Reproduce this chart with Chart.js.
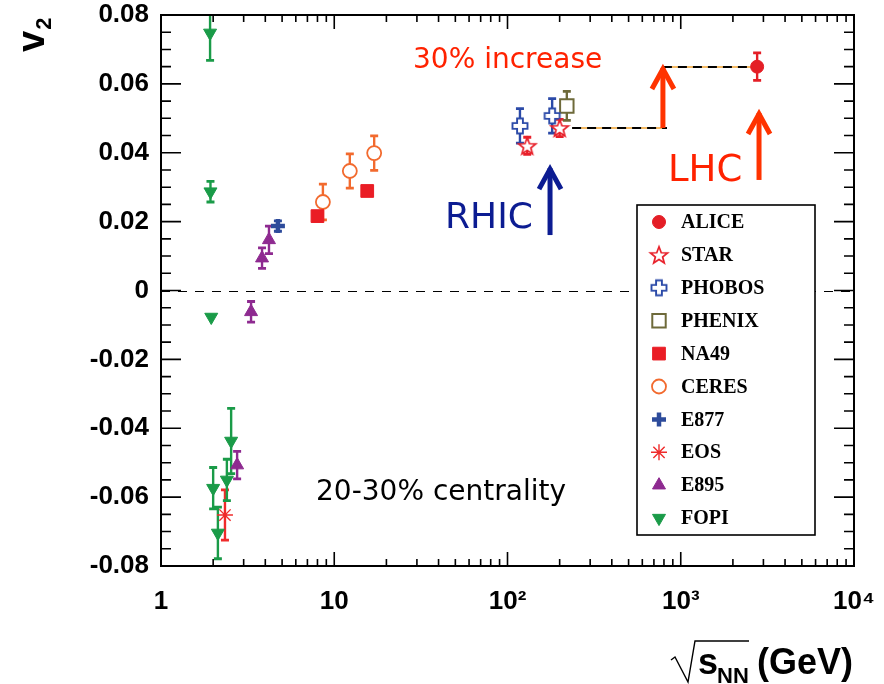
<!DOCTYPE html>
<html><head><meta charset="utf-8">
<script src="https://cdn.jsdelivr.net/npm/chart.js@4/dist/chart.umd.min.js"></script>
<style>html,body{margin:0;padding:0;background:#fff}#c{display:block}</style>
</head><body>
<div style="width:884px;height:684px"><canvas id="c" width="884" height="684"></canvas></div>
<script>
// ---- data ----
const aliceX=[2760], aliceY=[0.065], aliceErr=[0.004];
const starX=[130,200], starY=[0.0420,0.0472], starErr=[0.0025,0.0025];
const phobosX=[118,181], phobosY=[0.0478,0.0507], phobosErr=[0.005,0.005];
const phenixX=[220], phenixY=[0.0536], phenixErr=[0.0042];
const na49X=[8.0,15.5], na49Y=[0.0216,0.0289], na49Err=[0,0];
const ceresX=[8.6,12.3,17.0], ceresY=[0.0257,0.0347,0.0399], ceresErr=[0.0052,0.0050,0.0050];
const e877X=[4.73], e877Y=[0.0187], e877Err=[0.0015];
const eosX=[2.34], eosY=[-0.0652], eosErr=[0.0073];
const e895X=[2.75,3.31,3.83,4.2], e895Y=[-0.0507,-0.0062,0.0094,0.0147], e895Err=[0.004,0.003,0.003,0.004];
const fopiX=[1.92,1.93,1.95,2.0,2.13,2.40,2.54];
const fopiY=[0.0748,0.0287,-0.0077,-0.0574,-0.0704,-0.0550,-0.0437];
const fopiErr=[0.008,0.003,0,0.006,0.0075,0.006,0.0095];

const xTickValues=[1,10,100,1000,10000];
const xTickLabels=['1','10','10\u00B2','10\u00B3','10\u2074'];
const yTickValues=[-0.08,-0.06,-0.04,-0.02,0,0.02,0.04,0.06,0.08];
const yTickLabels=['-0.08','-0.06','-0.04','-0.02','0','0.02','0.04','0.06','0.08'];

// ---- annotations (data coordinates) ----
const RED='#ff2200', BLUE='#0c1c92';
const annArrows=[{x:789,y0:0.0472,y1:0.0655,c:'#ff3300'},{x:2830,y0:0.0321,y1:0.0524,c:'#ff3300'},{x:176,y0:0.0161,y1:0.0364,c:BLUE}];
const annDashes=[{x0:236,x1:833,y:0.0472},{x0:789,x1:2580,y:0.0649}];
const annTexts=[
  {t:'30% increase',x:28.5,y:0.0646,size:28,c:RED},
  {t:'LHC',x:844,y:0.0318,size:37,c:RED},
  {t:'RHIC',x:43.6,y:0.0182,size:36,c:BLUE},
  {t:'20-30% centrality',x:7.85,y:-0.0608,size:28,c:'#000'}
];

// ---- marker images ----
function makeCanvas(size, draw){const c=document.createElement('canvas');c.width=size;c.height=size;draw(c.getContext('2d'),size);return c;}
const starImg=makeCanvas(22,(g,s)=>{g.beginPath();const cx=s/2,cy=s/2+0.8,R=9,r=3.8;
  for(let i=0;i<10;i++){const a=-Math.PI/2+i*Math.PI/5;const rr=i%2?r:R;g.lineTo(cx+rr*Math.cos(a),cy+rr*Math.sin(a));}
  g.closePath();g.fillStyle='#fff';g.fill();g.lineWidth=1.7;g.strokeStyle='#e8202a';g.stroke();});
const openCrossImg=makeCanvas(20,(g,s)=>{const c=s/2,a=7.5,b=2.9;g.beginPath();
  const p=[[c-b,c-a],[c+b,c-a],[c+b,c-b],[c+a,c-b],[c+a,c+b],[c+b,c+b],[c+b,c+a],[c-b,c+a],[c-b,c+b],[c-a,c+b],[c-a,c-b],[c-b,c-b]];
  p.forEach((q,i)=>i?g.lineTo(q[0],q[1]):g.moveTo(q[0],q[1]));g.closePath();g.fillStyle='#fff';g.fill();g.lineWidth=1.9;g.strokeStyle='#2b4aa8';g.stroke();});

function ds(label,xs,ys,errs,errColor,style){
  return Object.assign({label,data:xs.map((x,i)=>({x,y:ys[i]})),err:errs,errColor,showLine:false},style);
}
const datasets=[
  ds('ALICE',aliceX,aliceY,aliceErr,'#e41e26',{pointStyle:'circle',pointRadius:6.5,backgroundColor:'#e41e26',borderColor:'#e41e26',borderWidth:1}),
  ds('STAR',starX,starY,starErr,'#e8202a',{pointStyle:starImg,pointRadius:10}),
  ds('PHOBOS',phobosX,phobosY,phobosErr,'#2b4aa8',{pointStyle:openCrossImg,pointRadius:9}),
  ds('PHENIX',phenixX,phenixY,phenixErr,'#6e6a3a',{pointStyle:'rect',pointRadius:9.5,backgroundColor:'#fff',borderColor:'#6e6a3a',borderWidth:2}),
  ds('NA49',na49X,na49Y,na49Err,'#ea1d25',{pointStyle:'rect',pointRadius:9,backgroundColor:'#ea1d25',borderColor:'#ea1d25',borderWidth:1}),
  ds('CERES',ceresX,ceresY,ceresErr,'#f26a2e',{pointStyle:'circle',pointRadius:7,backgroundColor:'#fff',borderColor:'#f26a2e',borderWidth:1.8}),
  ds('E877',e877X,e877Y,e877Err,'#2d4b9b',{pointStyle:'cross',pointRadius:7,backgroundColor:'#2d4b9b',borderColor:'#2d4b9b',borderWidth:4.5}),
  ds('EOS',eosX,eosY,eosErr,'#ef2b2b',{pointStyle:'star',pointRadius:8,backgroundColor:'#ef2b2b',borderColor:'#ef2b2b',borderWidth:1.4}),
  ds('E895',e895X,e895Y,e895Err,'#8e2a90',{pointStyle:'triangle',pointRadius:7.5,backgroundColor:'#8e2a90',borderColor:'#8e2a90',borderWidth:1}),
  ds('FOPI',fopiX,fopiY,fopiErr,'#1a9b48',{pointStyle:'triangle',rotation:180,pointRadius:7.5,backgroundColor:'#1a9b48',borderColor:'#1a9b48',borderWidth:1})
];

// ---- plugins ----
const behind={id:'behind',beforeDatasetsDraw(chart){
  const {ctx,chartArea:a,scales:{x,y}}=chart;
  ctx.save();ctx.beginPath();ctx.rect(a.left,a.top,a.right-a.left,a.bottom-a.top);ctx.clip();
  ctx.strokeStyle='#000';ctx.lineWidth=1;ctx.setLineDash([9,8]);
  const y0=Math.round(y.getPixelForValue(0))+0.5;
  ctx.beginPath();ctx.moveTo(a.left,y0);ctx.lineTo(a.right,y0);ctx.stroke();
  annDashes.forEach(d=>{
    const px0=x.getPixelForValue(d.x0),px1=x.getPixelForValue(d.x1),py=y.getPixelForValue(d.y);
    ctx.setLineDash([]);ctx.strokeStyle='#f2a533';ctx.lineWidth=1.5;
    ctx.beginPath();ctx.moveTo(px0,py);ctx.lineTo(px1,py);ctx.stroke();
    ctx.setLineDash([9,6]);ctx.strokeStyle='#000';ctx.lineWidth=2;
    ctx.beginPath();ctx.moveTo(px0,py);ctx.lineTo(px1,py);ctx.stroke();
  });
  ctx.setLineDash([]);
  chart.data.datasets.forEach(d=>{
    if(!d.err)return;ctx.strokeStyle=d.errColor;
    d.data.forEach((p,i)=>{const e=d.err[i];if(!e)return;
      const px=x.getPixelForValue(p.x),y1=y.getPixelForValue(p.y+e),y2=y.getPixelForValue(p.y-e);
      ctx.lineWidth=2.4;ctx.beginPath();ctx.moveTo(px,y1);ctx.lineTo(px,y2);ctx.stroke();
      ctx.lineWidth=2.8;ctx.beginPath();ctx.moveTo(px-4,y1);ctx.lineTo(px+4,y1);ctx.moveTo(px-4,y2);ctx.lineTo(px+4,y2);ctx.stroke();
    });
  });
  ctx.restore();
}};

const front={id:'front',afterDraw(chart){
  const {ctx,chartArea:a,scales:{x,y}}=chart;
  ctx.save();
  annArrows.forEach(r=>{
    const px=x.getPixelForValue(r.x),pb=y.getPixelForValue(r.y0),pt=y.getPixelForValue(r.y1);
    ctx.strokeStyle=r.c;ctx.lineWidth=5;ctx.lineCap='butt';ctx.lineJoin='miter';
    ctx.beginPath();ctx.moveTo(px,pb);ctx.lineTo(px,pt+3);ctx.stroke();
    ctx.beginPath();ctx.moveTo(px-11,pt+24);ctx.lineTo(px,pt+4);ctx.lineTo(px+11,pt+24);ctx.stroke();
  });
  annTexts.forEach(t=>{
    ctx.font=t.size+'px "DejaVu Sans"';ctx.fillStyle=t.c;ctx.textAlign='left';ctx.textBaseline='alphabetic';
    ctx.fillText(t.t,x.getPixelForValue(t.x),y.getPixelForValue(t.y));
  });
  ctx.strokeStyle='#000';ctx.lineWidth=2;
  ctx.strokeRect(a.left,a.top,a.right-a.left,a.bottom-a.top);
  ctx.lineWidth=1.6;ctx.beginPath();
  for(let d=1;d<10000;d*=10){for(let k=1;k<=10;k++){const v=d*k;if(v>10000)break;
    const px=x.getPixelForValue(v);const L=(k===1||k===10)?14:7;
    ctx.moveTo(px,a.bottom);ctx.lineTo(px,a.bottom-L);ctx.moveTo(px,a.top);ctx.lineTo(px,a.top+L);}}
  for(let i=-16;i<=16;i++){const v=i*0.005;const py=y.getPixelForValue(v);const L=(i%4===0)?20:10;
    ctx.moveTo(a.left,py);ctx.lineTo(a.left+L,py);ctx.moveTo(a.right,py);ctx.lineTo(a.right-L,py);}
  ctx.stroke();
  const lx=637,ly=205,lw=178,lh=330;
  ctx.fillStyle='#fff';ctx.fillRect(lx,ly,lw,lh);
  ctx.lineWidth=1.6;ctx.strokeStyle='#000';ctx.strokeRect(lx,ly,lw,lh);
  chart.data.datasets.forEach((d,i)=>{
    const cy=222+i*32.9, cx=659;
    ctx.fillStyle=d.backgroundColor||'#fff';ctx.strokeStyle=d.borderColor||'#000';
    ctx.lineWidth=d.borderWidth||1;
    Chart.helpers.drawPoint(ctx,{pointStyle:d.pointStyle,rotation:d.rotation||0,radius:d.pointRadius,borderWidth:d.borderWidth||1},cx,cy);
    ctx.fillStyle='#000';ctx.font='bold 20px "Liberation Serif"';ctx.textAlign='left';ctx.textBaseline='middle';
    ctx.fillText(d.label,681,cy+1);
  });
  ctx.fillStyle='#000';ctx.textBaseline='alphabetic';ctx.textAlign='left';
  ctx.save();ctx.translate(44,52);ctx.rotate(-Math.PI/2);
  ctx.font='bold 38px "Liberation Sans"';ctx.fillText('v',0,0);
  const vw=ctx.measureText('v').width;
  ctx.font='bold 22px "Liberation Sans"';ctx.fillText('2',vw+1,7);
  ctx.restore();
  ctx.strokeStyle='#000';ctx.lineWidth=1.4;ctx.beginPath();
  ctx.moveTo(671,660);ctx.lineTo(675,657);ctx.lineTo(688,682);ctx.lineTo(695,641);ctx.lineTo(749,641);ctx.stroke();
  ctx.font='bold 36px "Liberation Sans"';ctx.fillText('s',698,674);
  ctx.font='bold 22px "Liberation Sans"';ctx.fillText('NN',717,683);
  ctx.font='bold 36px "Liberation Sans"';ctx.fillText('(GeV)',757,674);
  ctx.restore();
}};

const tickFont={family:'"Liberation Sans"',weight:'bold',size:26};
new Chart(document.getElementById('c'),{
  type:'scatter',
  data:{datasets},
  options:{
    responsive:false,animation:false,
    layout:{padding:{top:15,right:30,left:0,bottom:0}},
    plugins:{legend:{display:false},tooltip:{enabled:false}},
    scales:{
      x:{type:'logarithmic',min:1,max:10000,grid:{display:false,drawTicks:false},border:{display:false},
        afterBuildTicks:s=>{s.ticks=xTickValues.map(v=>({value:v}));},
        ticks:{autoSkip:false,maxRotation:0,padding:20,color:'#000',font:tickFont,callback:(v,i)=>xTickLabels[i]},
        afterFit:s=>{s.height=118;s.paddingLeft=0;s.paddingRight=0;}},
      y:{type:'linear',min:-0.08,max:0.08,grid:{display:false,drawTicks:false},border:{display:false},
        afterBuildTicks:s=>{s.ticks=yTickValues.map(v=>({value:v}));},
        ticks:{autoSkip:false,padding:12,color:'#000',font:tickFont,callback:(v,i)=>yTickLabels[i]},
        afterFit:s=>{s.width=161;s.paddingTop=0;s.paddingBottom=0;}}
    }
  },
  plugins:[behind,front]
});
</script>
</body></html>
